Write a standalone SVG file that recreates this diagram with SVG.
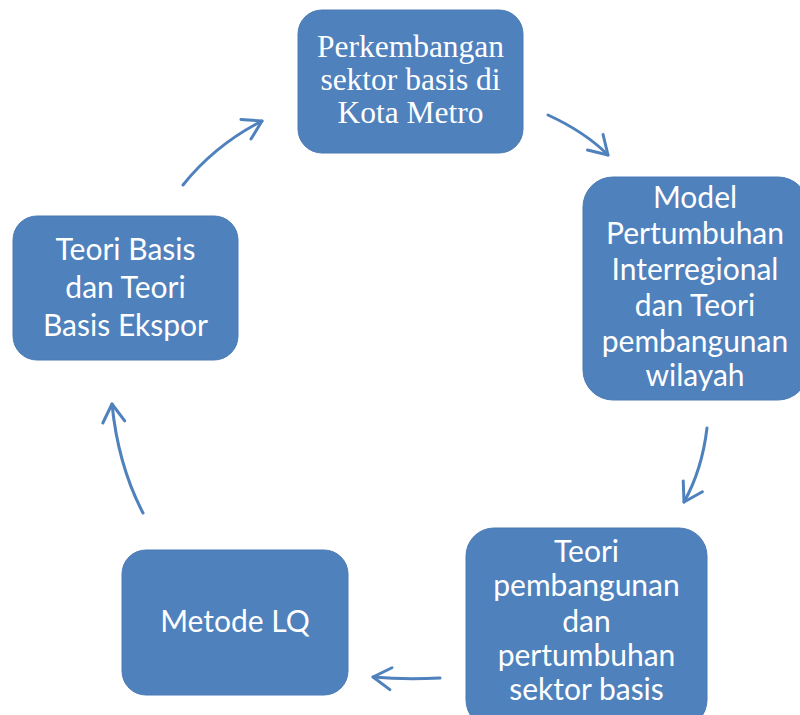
<svg xmlns="http://www.w3.org/2000/svg" width="800" height="715" viewBox="0 0 800 715">
<style>
.box{fill:#4F81BD;stroke:#4A7AB5;stroke-width:1}
.t{fill:#fff;font-family:Lato,"Open Sans",sans-serif;font-size:30px;text-anchor:middle}
.s{fill:#fff;font-family:"Liberation Serif",serif;font-size:31.5px;text-anchor:middle}
.c{fill:none;stroke:#4F81BD;stroke-width:3;stroke-linecap:round}
</style>
<defs>
<marker id="ah" markerUnits="userSpaceOnUse" markerWidth="30" markerHeight="30" refX="0" refY="0" viewBox="-22 -15 30 30" orient="auto" overflow="visible">
<path d="M-18,-11 L0,0 L-18,11" fill="none" stroke="#4F81BD" stroke-width="3" stroke-linecap="round" stroke-linejoin="round"/>
</marker>
</defs>
<rect width="800" height="715" fill="#fff"/>
<g id="connectors">
<path class="c" d="M183,185 Q215,145 262,121" marker-end="url(#ah)"/>
<path class="c" d="M548,115 Q585,132 608,155" marker-end="url(#ah)"/>
<path class="c" d="M707,428 Q702,470 684,502" marker-end="url(#ah)"/>
<path class="c" d="M440,678 Q405,680 373,677" marker-end="url(#ah)"/>
<path class="c" d="M143,513 Q118,465 112,404" marker-end="url(#ah)"/>
</g>
<g id="node-top">
<rect class="box" x="298" y="10" width="225" height="143" rx="24"/>
<text class="s" x="410.5" y="57">Perkembangan</text>
<text class="s" x="410.5" y="90">sektor basis di</text>
<text class="s" x="410.5" y="123">Kota Metro</text>
</g>
<g id="node-right">
<rect class="box" x="583" y="177" width="225" height="223" rx="30"/>
<text class="t" x="695" y="208">Model</text>
<text class="t" x="695" y="244">Pertumbuhan</text>
<text class="t" x="695" y="280">Interregional</text>
<text class="t" x="695" y="316">dan Teori</text>
<text class="t" x="695" y="352">pembangunan</text>
<text class="t" x="695" y="386">wilayah</text>
</g>
<g id="node-bottom-right">
<rect class="box" x="466" y="528" width="241" height="200" rx="28"/>
<text class="t" x="586.5" y="562">Teori</text>
<text class="t" x="586.5" y="596">pembangunan</text>
<text class="t" x="586.5" y="632">dan</text>
<text class="t" x="586.5" y="666">pertumbuhan</text>
<text class="t" x="586.5" y="700">sektor basis</text>
</g>
<g id="node-bottom-left">
<rect class="box" x="122" y="550" width="226" height="145" rx="24"/>
<text class="t" x="235" y="632">Metode LQ</text>
</g>
<g id="node-left">
<rect class="box" x="13" y="216" width="225" height="144" rx="24"/>
<text class="t" x="125.5" y="260">Teori Basis</text>
<text class="t" x="125.5" y="298">dan Teori</text>
<text class="t" x="125.5" y="336">Basis Ekspor</text>
</g>
</svg>
